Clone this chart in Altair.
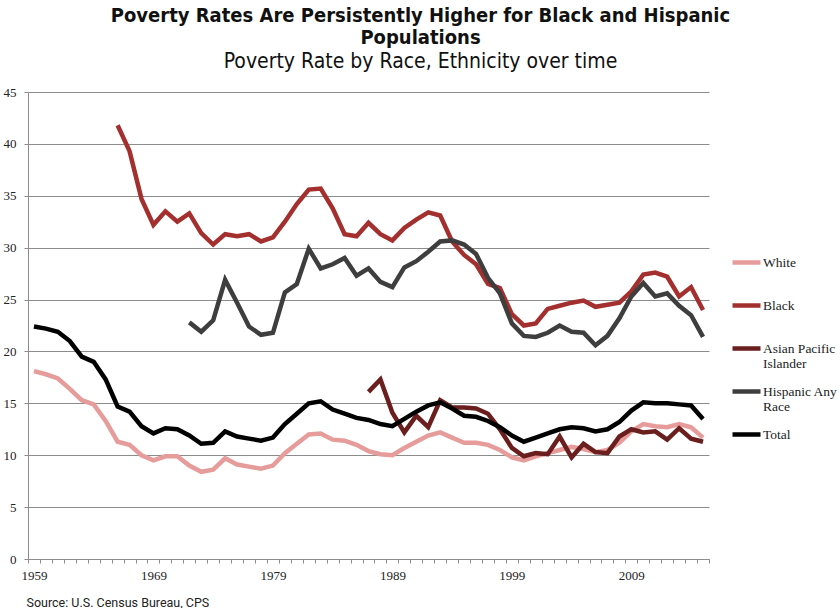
import altair as alt
import pandas as pd

years = list(range(1959, 2016))

series_names = ["White", "Black", "Asian Pacific Islander", "Hispanic Any Race", "Total"]
series_colors = ["#e69c9a", "#a3302e", "#6a1e1e", "#3e3e3e", "#000000"]
legend_lines = {
    "Asian Pacific Islander": ["Asian Pacific", "Islander"],
    "Hispanic Any Race": ["Hispanic Any", "Race"],
}

white_start = 1959
white = [18.1, 17.8, 17.4, 16.4, 15.3, 14.9, 13.3, 11.3, 11.0, 10.0,
         9.5, 9.9, 9.9, 9.0, 8.4, 8.6, 9.7, 9.1, 8.9, 8.7,
         9.0, 10.2, 11.1, 12.0, 12.1, 11.5, 11.4, 11.0, 10.4, 10.1,
         10.0, 10.7, 11.3, 11.9, 12.2, 11.7, 11.2, 11.2, 11.0, 10.5,
         9.8, 9.5, 9.9, 10.2, 10.5, 10.8, 10.6, 10.3, 10.5, 11.2,
         12.3, 13.0, 12.8, 12.7, 13.0, 12.7, 11.7]

black_start = 1966
black = [41.8, 39.3, 34.7, 32.2, 33.5, 32.5, 33.3, 31.4, 30.3, 31.3,
         31.1, 31.3, 30.6, 31.0, 32.5, 34.2, 35.6, 35.7, 33.8, 31.3,
         31.1, 32.4, 31.3, 30.7, 31.9, 32.7, 33.4, 33.1, 30.6, 29.3,
         28.4, 26.5, 26.1, 23.6, 22.5, 22.7, 24.1, 24.4, 24.7, 24.9,
         24.3, 24.5, 24.7, 25.8, 27.4, 27.6, 27.2, 25.3, 26.2, 24.0]

asian_start = 1987
asian = [16.1, 17.3, 14.1, 12.2, 13.8, 12.7, 15.3, 14.6, 14.6, 14.5,
         14.0, 12.5, 10.7, 9.9, 10.2, 10.1, 11.8, 9.8, 11.1, 10.3,
         10.2, 11.8, 12.5, 12.2, 12.3, 11.5, 12.6, 11.6, 11.3]

hispanic_start = 1972
hispanic = [22.8, 21.9, 23.0, 26.9, 24.7, 22.4, 21.6, 21.8, 25.7, 26.5,
            29.9, 28.0, 28.4, 29.0, 27.3, 28.0, 26.7, 26.2, 28.1, 28.7,
            29.6, 30.6, 30.7, 30.3, 29.4, 27.1, 25.6, 22.7, 21.5, 21.4,
            21.8, 22.5, 21.9, 21.8, 20.6, 21.5, 23.2, 25.3, 26.6, 25.3,
            25.6, 24.4, 23.5, 21.4]

total_start = 1959
total = [22.4, 22.2, 21.9, 21.0, 19.5, 19.0, 17.3, 14.7, 14.2, 12.8,
         12.1, 12.6, 12.5, 11.9, 11.1, 11.2, 12.3, 11.8, 11.6, 11.4,
         11.7, 13.0, 14.0, 15.0, 15.2, 14.4, 14.0, 13.6, 13.4, 13.0,
         12.8, 13.5, 14.2, 14.8, 15.1, 14.5, 13.8, 13.7, 13.3, 12.7,
         11.9, 11.3, 11.7, 12.1, 12.5, 12.7, 12.6, 12.3, 12.5, 13.2,
         14.3, 15.1, 15.0, 15.0, 14.9, 14.8, 13.5]

y_ticks = [0, 5, 10, 15, 20, 25, 30, 35, 40, 45]

title_lines = ["Poverty Rates Are Persistently Higher for Black and Hispanic", "Populations"]
subtitle_text = "Poverty Rate by Race, Ethnicity over time"
source_text = "Source: U.S. Census Bureau, CPS"

# ---- build long table ----
rows = []
for name, start, vals in [
    ("White", white_start, white),
    ("Black", black_start, black),
    ("Asian Pacific Islander", asian_start, asian),
    ("Hispanic Any Race", hispanic_start, hispanic),
    ("Total", total_start, total),
]:
    for i, v in enumerate(vals):
        rows.append({"year": start + i, "series": name, "value": v})
df = pd.DataFrame(rows)

# category boundaries for x ticks (Excel-like category axis)
boundaries = [y - 0.5 for y in years] + [years[-1] + 0.5]

W, H = 681, 467
cat_w = W / len(years)

label_expr = "datum.label"
for k, v in legend_lines.items():
    arr = "[" + ", ".join("'%s'" % s for s in v) + "]"
    label_expr = "datum.label == '%s' ? %s : (%s)" % (k, arr, label_expr)

TITLE_FONT = "DejaVu Sans Condensed, DejaVu Sans, sans-serif"
SERIF = "Liberation Serif, DejaVu Serif, serif"

chart = alt.Chart(df).mark_line(strokeWidth=4.5).encode(
    x=alt.X(
        "year:Q",
        scale=alt.Scale(domain=[years[0] - 0.5, years[-1] + 0.5], nice=False, zero=False),
        axis=alt.Axis(
            values=boundaries,
            labelExpr="(datum.value + 0.5) % 10 == 9 ? toString(datum.value + 0.5) : ''",
            labelOffset=cat_w / 2,
            labelFlush=False,
            labelOverlap=False,
            grid=False,
            tickSize=4,
            tickColor="#8c8c8c",
            domainColor="#8c8c8c",
            labelFont=SERIF,
            labelFontSize=13,
            labelColor="#222222",
            labelPadding=6,
            title=source_text,
            titleFont="Roboto",
            titleFontSize=12.5,
            titleFontWeight="normal",
            titleColor="#222222",
            titleAnchor="start",
            titleAlign="left",
            titleBaseline="alphabetic",
            titleX=-2,
            titleY=47,
        ),
    ),
    y=alt.Y(
        "value:Q",
        scale=alt.Scale(domain=[0, 45], nice=False),
        axis=alt.Axis(
            values=y_ticks,
            grid=True,
            gridColor="#8c8c8c",
            gridWidth=1,
            tickSize=4,
            tickColor="#8c8c8c",
            domainColor="#8c8c8c",
            labelFont=SERIF,
            labelFontSize=13,
            labelColor="#222222",
            labelPadding=8,
            title=None,
        ),
    ),
    color=alt.Color(
        "series:N",
        scale=alt.Scale(domain=series_names, range=series_colors),
        sort=series_names,
        legend=alt.Legend(
            title=None,
            orient="none",
            legendX=702,
            legendY=154,
            padding=0,
            symbolType="stroke",
            symbolSize=784,
            symbolStrokeWidth=4.5,
            labelFont=SERIF,
            labelFontSize=13.5,
            labelColor="#222222",
            labelOffset=0,
            labelExpr=label_expr,
            gridAlign="all",
            rowPadding=4,
        ),
    ),
    detail="series:N",
).properties(
    width=W,
    height=H,
    title=alt.TitleParams(
        text=title_lines,
        subtitle=subtitle_text,
        font=TITLE_FONT,
        fontSize=20,
        fontWeight="bold",
        color="#111111",
        lineHeight=22,
        subtitleFont=TITLE_FONT,
        subtitleFontSize=21,
        subtitleColor="#111111",
        subtitlePadding=3,
        anchor="middle",
        dx=52,
        offset=14,
    ),
    autosize=alt.AutoSizeParams(type="none"),
    padding={"left": 28, "top": 92, "right": 131, "bottom": 49},
    background="white",
).configure_view(stroke=None)

chart.save("out.html", embed_options={"renderer": "svg", "actions": False})
